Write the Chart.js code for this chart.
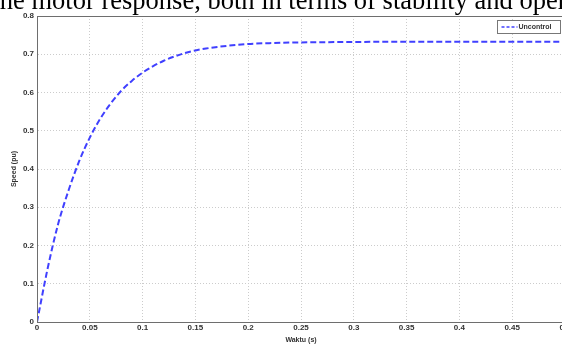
<!DOCTYPE html>
<html>
<head>
<meta charset="utf-8">
<script src="https://cdn.jsdelivr.net/npm/chart.js@4"></script>
<style>
    html, body { margin: 0; padding: 0; background: #fff; overflow: hidden; }
    #wrap { position: relative; width: 562px; height: 344px; overflow: hidden; }
    #caption {
        position: absolute; left: -7.5px; top: -13px;
        font: 26.5px "Liberation Serif", serif; line-height: 1;
        white-space: nowrap; color: #000;
    }
    #chart { position: absolute; left: 0; top: 0; }
</style>
</head>
<body>
<div id="wrap">
    <canvas id="chart" width="600" height="344"></canvas>
    <div id="caption">the motor response, both in terms of stability and operation</div>
</div>
<script>
// time (s) and speed (pu)
const waktu = [0, 0.01, 0.02, 0.03, 0.04, 0.05, 0.06, 0.07, 0.08, 0.09, 0.10,
    0.11, 0.12, 0.13, 0.14, 0.15, 0.16, 0.18, 0.20, 0.22, 0.25, 0.30, 0.35, 0.40, 0.45, 0.50];
const speed = [0, 0.139, 0.256, 0.345, 0.421, 0.482, 0.532, 0.572, 0.605, 0.631, 0.652,
    0.669, 0.683, 0.694, 0.703, 0.710, 0.715, 0.722, 0.727, 0.729, 0.731, 0.732, 0.733, 0.733, 0.733, 0.733];
const seriesLabel = "Uncontrol";

const tickFont = { family: "Arial, 'Liberation Sans', sans-serif", size: 8, weight: "bold" };

// MATLAB style box round the axes
const boxPlugin = {
    id: "box",
    afterDraw(chart) {
        const { ctx, chartArea: a } = chart;
        ctx.save();
        ctx.strokeStyle = "#6e6e6e";
        ctx.lineWidth = 1;
        ctx.strokeRect(a.left + 0.5, a.top + 0.5, a.right - a.left, a.bottom - a.top);
        // legend
        const x = 497.5, y = 20.5, w = 63, h = 13;
        ctx.fillStyle = "#fff";
        ctx.fillRect(x, y, w, h);
        ctx.strokeStyle = "#777";
        ctx.strokeRect(x, y, w, h);
        ctx.strokeStyle = "#4040ff";
        ctx.lineWidth = 1.5;
        ctx.setLineDash([3, 2]);
        ctx.beginPath();
        ctx.moveTo(x + 4, y + 6.5);
        ctx.lineTo(x + 20, y + 6.5);
        ctx.stroke();
        ctx.setLineDash([]);
        ctx.fillStyle = "#333";
        ctx.font = "bold 7px Arial, 'Liberation Sans', sans-serif";
        ctx.textBaseline = "middle";
        ctx.fillText(seriesLabel, x + 21, y + 7);
        ctx.restore();
    }
};

new Chart(document.getElementById("chart"), {
    type: "line",
    data: {
        datasets: [{
            label: seriesLabel,
            data: waktu.map((t, i) => ({ x: t, y: speed[i] })),
            borderColor: "#4040ff",
            borderWidth: 2,
            borderDash: [6, 3],
            pointRadius: 0,
            cubicInterpolationMode: "monotone"
        }]
    },
    options: {
        responsive: false,
        animation: false,
        layout: { padding: { left: 0, right: 35, top: 16, bottom: 0 } },
        plugins: { legend: { display: false }, tooltip: { enabled: false } },
        scales: {
            x: {
                type: "linear", min: 0, max: 0.5,
                afterFit(s) { s.height = 22; },
                ticks: {
                    stepSize: 0.05, color: "#333", font: tickFont, padding: 1,
                    maxRotation: 0,
                    callback: v => String(+v.toFixed(2))
                },
                grid: { color: "#cccccc", lineWidth: 1, drawTicks: false },
                border: { color: "#6e6e6e", dash: [1, 2] },
                title: { display: true, text: "Waktu (s)", color: "#333", font: { ...tickFont, size: 7 }, padding: 0 }
            },
            y: {
                min: 0, max: 0.8,
                afterFit(s) { s.width = 37; },
                ticks: {
                    stepSize: 0.1, color: "#333", font: tickFont, padding: 3,
                    callback: v => String(+v.toFixed(1))
                },
                grid: { color: "#cccccc", lineWidth: 1, drawTicks: false },
                border: { color: "#6e6e6e", dash: [1, 2] },
                title: { display: true, text: "Speed (pu)", color: "#333", font: { ...tickFont, size: 7 }, padding: { top: 10, bottom: 0 } }
            }
        }
    },
    plugins: [boxPlugin]
});
</script>
</body>
</html>
